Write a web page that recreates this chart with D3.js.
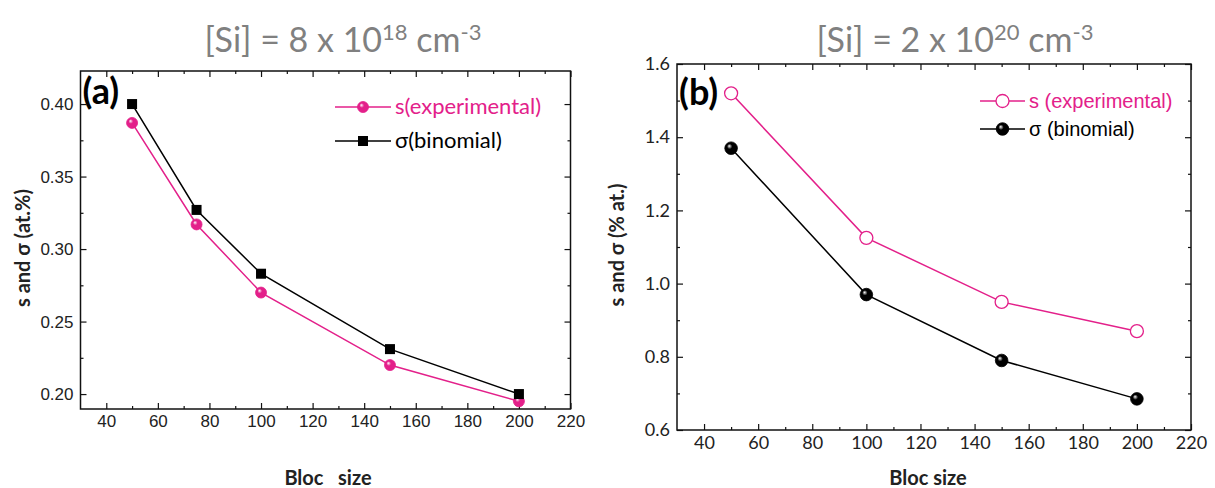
<!DOCTYPE html>
<html><head><meta charset="utf-8">
<script src="https://cdn.jsdelivr.net/npm/d3@7"></script>
<style>
html,body{margin:0;padding:0;background:#fff;}
svg{display:block;}
</style></head>
<body><svg id="c" width="1215" height="488"></svg>
<script>
// ---- data ----
const blocSizeA = [50, 75, 100, 150, 200];
const sExpA = [0.387, 0.317, 0.270, 0.220, 0.195];
const sigmaBinA = [0.400, 0.327, 0.283, 0.231, 0.200];
const blocSizeB = [50, 100, 150, 200];
const sExpB = [1.52, 1.125, 0.95, 0.87];
const sigmaBinB = [1.37, 0.97, 0.79, 0.685];
const xTicks = [40, 60, 80, 100, 120, 140, 160, 180, 200, 220];
const xMinor = [50, 70, 90, 110, 130, 150, 170, 190, 210];
const yTicksA = [0.20, 0.25, 0.30, 0.35, 0.40];
const yMinorA = [0.225, 0.275, 0.325, 0.375];
const yTicksB = [0.6, 0.8, 1.0, 1.2, 1.4, 1.6];
const yMinorB = [0.7, 0.9, 1.1, 1.3, 1.5];
const legendA = ["s(experimental)", "σ(binomial)"];
const legendB = ["s (experimental)", "σ (binomial)"];

const PINK = "#e3208a";
const svg = d3.select("#c");
const defs = svg.append("defs");
function ballGrad(id, base) {
  const g = defs.append("radialGradient").attr("id", id).attr("cx", "45%").attr("cy", "45%").attr("r", "60%").attr("fx", "35%").attr("fy", "32%");
  g.append("stop").attr("offset", "0%").attr("stop-color", "#ffffff");
  g.append("stop").attr("offset", "35%").attr("stop-color", base);
  g.append("stop").attr("offset", "100%").attr("stop-color", base);
}
ballGrad("pinkBall", PINK);
ballGrad("blackBall", "#000");

function panel(cfg) {
  const x = d3.scaleLinear().domain([30, 220]).range([cfg.l, cfg.r]);
  const y = d3.scaleLinear().domain(cfg.yDom).range([cfg.b, cfg.t]);
  const g = svg.append("g");
  const fmt = cfg.yFmt;
  const ax = (gen, tr) => g.append("g").attr("transform", tr).call(gen).call(s => s.select(".domain").remove());
  ax(d3.axisBottom(x).tickValues(xTicks).tickSize(-6).tickSizeOuter(0).tickPadding(6).tickFormat(d3.format("d")), `translate(0,${cfg.b})`)
    .selectAll("text").attr("font-family", cfg.tickFont).attr("font-size", cfg.tickSize).attr("fill", "#222");
  ax(d3.axisBottom(x).tickValues(xMinor).tickSize(-3).tickSizeOuter(0).tickFormat(""), `translate(0,${cfg.b})`);
  ax(d3.axisTop(x).tickValues(xTicks).tickSize(-6).tickSizeOuter(0).tickFormat(""), `translate(0,${cfg.t})`);
  ax(d3.axisTop(x).tickValues(xMinor).tickSize(-3).tickSizeOuter(0).tickFormat(""), `translate(0,${cfg.t})`);
  ax(d3.axisLeft(y).tickValues(cfg.yTicks).tickSize(-6).tickSizeOuter(0).tickPadding(7).tickFormat(fmt), `translate(${cfg.l},0)`)
    .selectAll("text").attr("font-family", cfg.tickFont).attr("font-size", cfg.tickSize).attr("fill", "#222");
  ax(d3.axisLeft(y).tickValues(cfg.yMinor).tickSize(-3).tickSizeOuter(0).tickFormat(""), `translate(${cfg.l},0)`);
  ax(d3.axisRight(y).tickValues(cfg.yTicks).tickSize(-6).tickSizeOuter(0).tickFormat(""), `translate(${cfg.r},0)`);
  ax(d3.axisRight(y).tickValues(cfg.yMinor).tickSize(-3).tickSizeOuter(0).tickFormat(""), `translate(${cfg.r},0)`);
  g.selectAll(".tick line").attr("stroke", "#111").attr("stroke-width", 1.2);
  g.append("rect").attr("x", cfg.l).attr("y", cfg.t).attr("width", cfg.r - cfg.l).attr("height", cfg.b - cfg.t)
    .attr("fill", "none").attr("stroke", "#111").attr("stroke-width", 1.5);

  // title
  const tt = g.append("text").attr("x", cfg.titleX).attr("y", 52).attr("text-anchor", "middle")
    .attr("font-family", "Lato, 'Open Sans', sans-serif").attr("font-size", 34).attr("fill", "#808080");
  tt.append("tspan").text(cfg.title[0]);
  tt.append("tspan").attr("dy", -12).attr("font-size", 22).text(cfg.title[1]);
  tt.append("tspan").attr("dy", 12).text(" cm");
  tt.append("tspan").attr("dy", -12).attr("font-size", 22).text("-3");

  // panel label
  g.append("text").attr("x", cfg.l + 2).attr("y", cfg.labY).attr("font-family", "Lato, 'Open Sans', sans-serif")
    .attr("font-weight", "bold").attr("font-size", 36).attr("fill", "#000").text(cfg.label);

  // axis titles
  g.append("text").attr("transform", `translate(${cfg.yLabX},${cfg.yLabY}) rotate(-90)`).attr("text-anchor", "middle")
    .attr("font-family", "Lato, 'Open Sans', sans-serif").attr("font-weight", "bold").attr("font-size", 20).attr("fill", "#222")
    .text(cfg.yLabel);
  g.append("text").attr("x", cfg.xLabX).attr("y", 485).attr("text-anchor", "middle")
    .style("white-space", "pre")
    .attr("font-family", "Lato, 'Open Sans', sans-serif").attr("font-weight", "bold").attr("font-size", 20).attr("fill", "#222")
    .text(cfg.xLabel);

  // series
  const line = (xs, ys) => d3.line().x((d, i) => x(xs[i])).y(d => y(d))(ys);
  cfg.series.forEach(s => {
    g.append("path").attr("d", line(cfg.xs, s.ys)).attr("fill", "none").attr("stroke", s.color).attr("stroke-width", 1.5);
  });
  cfg.series.forEach(s => {
    s.ys.forEach((v, i) => drawMarker(g, s.marker, x(cfg.xs[i]), y(v)));
  });

  // legend
  cfg.legend.forEach((txt, i) => {
    const s = cfg.series[i];
    const ly = cfg.legY + i * cfg.legDy;
    g.append("line").attr("x1", cfg.legX).attr("x2", cfg.legX + cfg.legLen).attr("y1", ly).attr("y2", ly)
      .attr("stroke", s.color).attr("stroke-width", 1.5);
    drawMarker(g, s.marker, cfg.legX + cfg.legLen / 2, ly);
    g.append("text").attr("x", cfg.legX + cfg.legLen + 4).attr("y", ly + 7).attr("font-family", cfg.legFont)
      .attr("font-size", cfg.legSize).attr("fill", s.color).text(txt);
  });
}

function drawMarker(g, type, cx, cy) {
  if (type === "square") {
    g.append("rect").attr("x", cx - 5).attr("y", cy - 5).attr("width", 10).attr("height", 10).attr("fill", "#000");
  } else if (type === "pinkball") {
    g.append("circle").attr("cx", cx).attr("cy", cy).attr("r", 5.5).attr("fill", "url(#pinkBall)").attr("stroke", PINK).attr("stroke-width", 0.8);
  } else if (type === "open") {
    g.append("circle").attr("cx", cx).attr("cy", cy).attr("r", 6.5).attr("fill", "#fff").attr("stroke", PINK).attr("stroke-width", 1.3);
  } else if (type === "blackball") {
    g.append("circle").attr("cx", cx).attr("cy", cy).attr("r", 6.3).attr("fill", "url(#blackBall)").attr("stroke", "#000").attr("stroke-width", 0.8);
  }
}

panel({
  l: 80.5, r: 570.5, t: 71, b: 409, yDom: [0.1897, 0.4228],
  yTicks: yTicksA, yMinor: yMinorA, yFmt: d3.format(".2f"),
  tickFont: "'Liberation Sans', Arial, sans-serif", tickSize: 17,
  title: ["[Si] = 8 x 10", "18"], titleX: 343, label: "(a)", labY: 104,
  yLabel: "s and σ (at.%)", yLabX: 30, yLabY: 248, xLabel: "Bloc   size", xLabX: 328,
  xs: blocSizeA,
  series: [{ ys: sExpA, color: PINK, marker: "pinkball" }, { ys: sigmaBinA, color: "#000", marker: "square" }],
  legend: legendA, legX: 335, legLen: 56, legY: 107, legDy: 34, legFont: "Lato, 'Open Sans', sans-serif", legSize: 22
});
panel({
  l: 677, r: 1191, t: 64, b: 430, yDom: [0.6, 1.6],
  yTicks: yTicksB, yMinor: yMinorB, yFmt: d3.format(".1f"),
  tickFont: "Lato, 'Open Sans', sans-serif", tickSize: 18,
  title: ["[Si] = 2 x 10", "20"], titleX: 955, label: "(b)", labY: 105,
  yLabel: "s and σ (% at.)", yLabX: 624, yLabY: 245, xLabel: "Bloc size", xLabX: 928,
  xs: blocSizeB,
  series: [{ ys: sExpB, color: PINK, marker: "open" }, { ys: sigmaBinB, color: "#000", marker: "blackball" }],
  legend: legendB, legX: 980, legLen: 45, legY: 101, legDy: 28, legFont: "'Liberation Sans', Arial, sans-serif", legSize: 20
});
</script>
</body></html>
